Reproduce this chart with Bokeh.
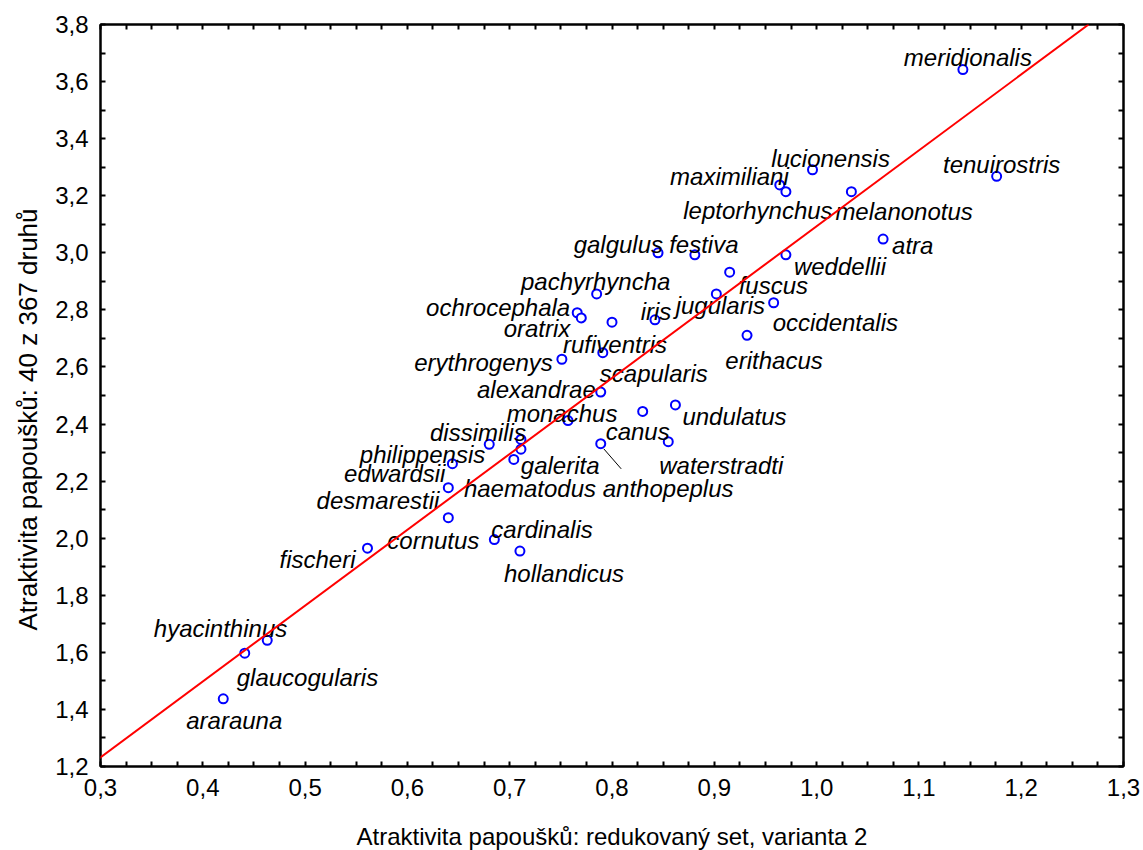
from bokeh.plotting import figure
from bokeh.models import (Range1d, LinearAxis, FixedTicker, CustomJSTickFormatter,
                          Slope, ColumnDataSource, Title)
from bokeh.core.properties import value
from bokeh.embed import file_html
from bokeh.resources import INLINE

# ---- data ----
species = ["meridionalis", "tenuirostris", "lucionensis", "maximiliani", "leptorhynchus",
           "melanonotus", "atra", "weddellii", "festiva", "galgulus", "fuscus", "jugularis",
           "occidentalis", "erithacus", "pachyrhyncha", "ochrocephala", "oratrix", "rufiventris",
           "iris", "erythrogenys", "scapularis", "alexandrae", "monachus", "canus", "undulatus",
           "dissimilis", "haematodus", "philippensis", "galerita", "edwardsii", "anthopeplus",
           "waterstradti", "desmarestii", "cornutus", "cardinalis", "hollandicus", "fischeri",
           "hyacinthinus", "glaucogularis", "ararauna"]
reduced_set = [1.143, 1.176, 0.996, 0.964, 0.970,
               1.034, 1.065, 0.970, 0.881, 0.845, 0.915, 0.902,
               0.958, 0.932, 0.785, 0.766, 0.770, 0.800,
               0.842, 0.751, 0.791, 0.789, 0.757, 0.830, 0.862,
               0.711, 0.711, 0.680, 0.704, 0.644, 0.789,
               0.855, 0.640, 0.640, 0.685, 0.710, 0.561,
               0.463, 0.441, 0.420]
all_367 = [3.642, 3.268, 3.291, 3.238, 3.214,
           3.214, 3.048, 2.993, 2.993, 3.000, 2.932, 2.856,
           2.825, 2.711, 2.856, 2.790, 2.772, 2.757,
           2.765, 2.627, 2.650, 2.512, 2.412, 2.444, 2.467,
           2.346, 2.312, 2.329, 2.276, 2.261, 2.331,
           2.338, 2.177, 2.072, 1.995, 1.955, 1.965,
           1.642, 1.597, 1.437]
fit_slope = 2.659
fit_intercept = 0.434
x_ticks = [0.3, 0.4, 0.5, 0.6, 0.7, 0.8, 0.9, 1.0, 1.1, 1.2, 1.3]
x_tick_labels = ["0,3", "0,4", "0,5", "0,6", "0,7", "0,8", "0,9", "1,0", "1,1", "1,2", "1,3"]
y_ticks = [1.2, 1.4, 1.6, 1.8, 2.0, 2.2, 2.4, 2.6, 2.8, 3.0, 3.2, 3.4, 3.6, 3.8]
y_tick_labels = ["1,2", "1,4", "1,6", "1,8", "2,0", "2,2", "2,4", "2,6", "2,8", "3,0",
                 "3,2", "3,4", "3,6", "3,8"]
x_title = "Atraktivita papoušků: redukovaný set, varianta 2"
y_title = "Atraktivita papoušků: 40 z 367 druhů"

# ---- label placement (pixels: dx, dy down to baseline, alignment) ----
label_pos = {
    "meridionalis": (5, -12, "center"), "tenuirostris": (5, -12, "center"),
    "lucionensis": (18, -11, "center"), "maximiliani": (9, -8, "right"),
    "leptorhynchus": (-28, 19, "center"), "melanonotus": (-16, 20, "left"),
    "atra": (9, 6, "left"), "weddellii": (8, 12, "left"), "festiva": (9, -10, "center"),
    "galgulus": (5, -8, "right"), "fuscus": (9, 13, "left"), "jugularis": (4, 12, "center"),
    "occidentalis": (-1, 20, "left"), "erithacus": (27, 25, "center"),
    "pachyrhyncha": (-1, -12, "center"), "ochrocephala": (-7, -5, "right"),
    "oratrix": (-11, 11, "right"), "rufiventris": (3, 22, "center"), "iris": (1, -8, "center"),
    "erythrogenys": (-9, 3, "right"), "scapularis": (-3, 21, "left"),
    "alexandrae": (-5, -3, "right"), "monachus": (-6, -7, "center"), "canus": (-5, 20, "center"),
    "undulatus": (7, 12, "left"), "dissimilis": (5, -7, "right"),
    "haematodus": (9, 39, "center"), "philippensis": (-4, 10, "right"),
    "galerita": (7, 6, "left"), "edwardsii": (-7, 10, "right"), "anthopeplus": (2, 45, "left"),
    "waterstradti": (-9, 24, "left"), "desmarestii": (-9, 13, "right"),
    "cornutus": (-15, 23, "center"), "cardinalis": (-3, -10, "left"),
    "hollandicus": (-16, 22, "left"), "fischeri": (-12, 11, "right"),
    "hyacinthinus": (20, -12, "right"), "glaucogularis": (-8, 24, "left"),
    "ararauna": (11, 22, "center"),
}

FONT = "Liberation Sans"

p = figure(frame_width=1023, frame_height=742, output_backend="svg", toolbar_location=None,
           x_range=Range1d(0.3, 1.3), y_range=Range1d(1.2, 3.8),
           min_border_left=100, min_border_right=20, min_border_top=24, min_border_bottom=84,
           x_axis_location=None, y_axis_location=None)
p.grid.visible = False
p.outline_line_color = "black"
p.outline_line_width = 2
p.background_fill_color = "white"
p.border_fill_color = "white"

def minor_between(ticks, n):
    out = []
    for a, b in zip(ticks[:-1], ticks[1:]):
        step = (b - a) / n
        out += [a + k * step for k in range(1, n)]
    return out

def make_formatter(tick_values, labels):
    return CustomJSTickFormatter(args=dict(tvals=tick_values, tlabels=labels), code="""
        let best = 0, bd = Infinity;
        for (let i = 0; i < tvals.length; i++) {
            const d = Math.abs(tvals[i] - tick);
            if (d < bd) { bd = d; best = i; }
        }
        return tlabels[best];
    """)

def make_axis(kind, labelled):
    if kind == "x":
        ax = LinearAxis(ticker=FixedTicker(ticks=x_ticks, minor_ticks=minor_between(x_ticks, 4)))
        ax.formatter = make_formatter(x_ticks, x_tick_labels)
    else:
        ax = LinearAxis(ticker=FixedTicker(ticks=y_ticks, minor_ticks=minor_between(y_ticks, 2)))
        ax.formatter = make_formatter(y_ticks, y_tick_labels)
    ax.axis_line_color = "black"
    ax.axis_line_width = 2
    ax.major_tick_in = 5
    ax.major_tick_out = 0
    ax.minor_tick_in = 5
    ax.minor_tick_out = 0
    ax.major_tick_line_width = 2
    ax.minor_tick_line_width = 2
    if labelled:
        ax.major_label_text_font = FONT
        ax.major_label_text_font_size = "24px"
        ax.major_label_text_color = "black"
        ax.major_label_standoff = 12
    else:
        ax.major_label_text_font_size = "0px"
        ax.major_label_text_color = None
    return ax

xb = make_axis("x", True)
xb.axis_label = x_title
xb.axis_label_text_font = FONT
xb.axis_label_text_font_style = "normal"
xb.axis_label_text_color = "black"
xb.axis_label_text_font_size = "24px"
xb.axis_label_standoff = 24
yl = make_axis("y", True)
p.add_layout(xb, "below")
p.add_layout(yl, "left")
p.add_layout(make_axis("x", False), "above")
p.add_layout(make_axis("y", False), "right")

# y-axis title as a left-side title, starting a little above the frame's bottom
p.add_layout(Title(text=y_title, align="left", offset=136, standoff=20,
                   text_font=FONT, text_font_style="normal", text_font_size="26px",
                   text_color="black"), "left")

# regression line
p.add_layout(Slope(gradient=fit_slope, y_intercept=fit_intercept, line_color="red", line_width=2))

dx = [label_pos[s][0] for s in species]
dy = [label_pos[s][1] for s in species]
al = [label_pos[s][2] for s in species]
src = ColumnDataSource(dict(x=reduced_set, y=all_367, name=species, dx=dx, dy=dy, al=al))

# leader line for anthopeplus
i_a = species.index("anthopeplus")
p.segment(x0=reduced_set[i_a] + 0.003, y0=all_367[i_a] - 0.018,
          x1=reduced_set[i_a] + 0.020, y1=all_367[i_a] - 0.088,
          line_color="black", line_width=1)

p.scatter("x", "y", source=src, marker="circle", size=9, line_color="#0000FF",
          line_width=2, fill_color="white")

p.text("x", "y", text="name", source=src, x_offset="dx", y_offset="dy", text_align="al",
       text_baseline="alphabetic", text_font=value(FONT), text_font_style="italic",
       text_font_size="24px", text_color="black")

open("out.html", "w").write(file_html(p, INLINE))
